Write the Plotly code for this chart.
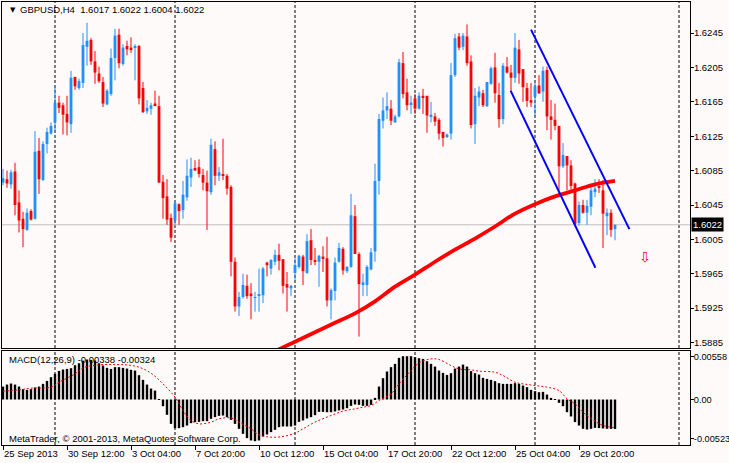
import plotly.graph_objects as go
from plotly.subplots import make_subplots

# GBPUSD H4, bar 0 = 25 Sep 2013 20:00, one bar every 4 hours
opens = [1.6071, 1.6075, 1.6069, 1.6084, 1.6048, 1.6029, 1.6016, 1.6038, 1.6029, 1.6108,
         1.6074, 1.6116, 1.6128, 1.6141, 1.6164, 1.6161, 1.6151, 1.6139, 1.6194, 1.6181,
         1.6187, 1.6229, 1.6237, 1.6212, 1.6198, 1.6188, 1.6162, 1.6174, 1.6216, 1.6243,
         1.6209, 1.6230, 1.6228, 1.6228, 1.6230, 1.6181, 1.6154, 1.6157, 1.6163, 1.6160,
         1.6072, 1.6055, 1.6030, 1.6027, 1.6046, 1.6039, 1.6054, 1.6077, 1.6088, 1.6089,
         1.6080, 1.6071, 1.6060, 1.6110, 1.6079, 1.6081, 1.6079, 1.6066, 1.5979, 1.5927,
         1.5938, 1.5951, 1.5942, 1.5937, 1.5940, 1.5940, 1.5978, 1.5971, 1.5979, 1.5987,
         1.5982, 1.5953, 1.5948, 1.5966, 1.5973, 1.5985, 1.5966, 1.6004, 1.5981, 1.5979,
         1.5985, 1.5983, 1.5934, 1.5945, 1.5979, 1.5994, 1.5968, 1.5973, 1.6032, 1.5988,
         1.5952, 1.5952, 1.5970, 1.5991, 1.6073, 1.6143, 1.6155, 1.6157, 1.6141, 1.6148,
         1.6210, 1.6176, 1.6162, 1.6169, 1.6157, 1.6172, 1.6172, 1.6148, 1.6148, 1.6144,
         1.6130, 1.6124, 1.6128, 1.6196, 1.6241, 1.6229, 1.6241, 1.6212, 1.6139, 1.6170,
         1.6175, 1.6160, 1.6186, 1.6205, 1.6173, 1.6145, 1.6206, 1.6199, 1.6193, 1.6226,
         1.6203, 1.6181, 1.6167, 1.6171, 1.6184, 1.6177, 1.6202, 1.6148, 1.6144, 1.6137,
         1.6090, 1.6102, 1.6091, 1.6070, 1.6024, 1.6045, 1.6036, 1.6043, 1.6060, 1.6067,
         1.6062, 1.6032, 1.6036, 1.6017]
highs = [1.6087, 1.6085, 1.6086, 1.6094, 1.6062, 1.6037, 1.6041, 1.6040, 1.6131, 1.6123,
         1.6119, 1.6135, 1.6141, 1.6183, 1.6172, 1.6164, 1.6172, 1.6201, 1.6194, 1.6192,
         1.6245, 1.6257, 1.6239, 1.6224, 1.6206, 1.6194, 1.6180, 1.6227, 1.6250, 1.6250,
         1.6232, 1.6236, 1.6240, 1.6232, 1.6231, 1.6188, 1.6167, 1.6164, 1.6178, 1.6172,
         1.6080, 1.6075, 1.6035, 1.6048, 1.6047, 1.6073, 1.6098, 1.6100, 1.6097, 1.6098,
         1.6087, 1.6085, 1.6122, 1.6119, 1.6089, 1.6122, 1.6081, 1.6068, 1.5984, 1.5944,
         1.5965, 1.5964, 1.5954, 1.5944, 1.5971, 1.5973, 1.5979, 1.5982, 1.5993, 1.6000,
         1.5982, 1.5967, 1.5952, 1.5983, 1.5987, 1.5987, 1.6011, 1.6017, 1.5995, 1.5987,
         1.5997, 1.6008, 1.5948, 1.5984, 1.6001, 1.5996, 1.5974, 1.6058, 1.6045, 1.5990,
         1.5965, 1.5975, 1.5995, 1.6093, 1.6151, 1.6170, 1.6176, 1.6167, 1.6150, 1.6215,
         1.6223, 1.6192, 1.6172, 1.6174, 1.6176, 1.6180, 1.6172, 1.6165, 1.6152, 1.6146,
         1.6130, 1.6128, 1.6210, 1.6244, 1.6245, 1.6245, 1.6255, 1.6219, 1.6181, 1.6183,
         1.6179, 1.6188, 1.6206, 1.6222, 1.6187, 1.6210, 1.6217, 1.6208, 1.6245, 1.6237,
         1.6203, 1.6187, 1.6187, 1.6187, 1.6196, 1.6206, 1.6206, 1.6167, 1.6163, 1.6137,
         1.6117, 1.6102, 1.6097, 1.6071, 1.6049, 1.6051, 1.6051, 1.6070, 1.6075, 1.6075,
         1.6074, 1.6041, 1.6040, 1.6022]
lows = [1.6068, 1.6065, 1.6064, 1.6033, 1.6013, 1.5996, 1.6015, 1.6027, 1.6028, 1.6058,
        1.6073, 1.6105, 1.6127, 1.6132, 1.6152, 1.6127, 1.6126, 1.6129, 1.6179, 1.6179,
        1.6181, 1.6207, 1.6208, 1.6186, 1.6187, 1.6159, 1.6161, 1.6172, 1.6190, 1.6204,
        1.6207, 1.6219, 1.6222, 1.6190, 1.6162, 1.6152, 1.6151, 1.6150, 1.6160, 1.6071,
        1.6029, 1.6022, 1.6002, 1.6022, 1.6022, 1.6029, 1.6050, 1.6066, 1.6085, 1.6077,
        1.6062, 1.6016, 1.6057, 1.6068, 1.6073, 1.6074, 1.6057, 1.5962, 1.5921, 1.5916,
        1.5936, 1.5936, 1.5912, 1.5921, 1.5921, 1.5931, 1.5962, 1.5964, 1.5975, 1.5969,
        1.5942, 1.5921, 1.5939, 1.5958, 1.5971, 1.5952, 1.5965, 1.5975, 1.5975, 1.5950,
        1.5967, 1.5927, 1.5912, 1.5934, 1.5978, 1.5964, 1.5966, 1.5972, 1.5988, 1.5892,
        1.5939, 1.5939, 1.5969, 1.5979, 1.6057, 1.6134, 1.6145, 1.6138, 1.6141, 1.6147,
        1.6169, 1.6155, 1.6151, 1.6151, 1.6156, 1.6151, 1.6129, 1.6141, 1.6137, 1.6121,
        1.6113, 1.6123, 1.6121, 1.6194, 1.6225, 1.6225, 1.6207, 1.6134, 1.6116, 1.6160,
        1.6159, 1.6159, 1.6185, 1.6164, 1.6135, 1.6139, 1.6198, 1.6178, 1.6187, 1.6186,
        1.6165, 1.6159, 1.6159, 1.6148, 1.6174, 1.6165, 1.6132, 1.6121, 1.6132, 1.6062,
        1.6088, 1.6062, 1.6063, 1.6020, 1.6021, 1.6035, 1.6022, 1.6033, 1.6054, 1.6059,
        1.5995, 1.6010, 1.6008, 1.6004]
closes = [1.6076, 1.6070, 1.6083, 1.6045, 1.6027, 1.6017, 1.6036, 1.6028, 1.6107, 1.6075,
          1.6116, 1.6130, 1.6137, 1.6164, 1.6158, 1.6150, 1.6141, 1.6193, 1.6183, 1.6189,
          1.6231, 1.6236, 1.6212, 1.6199, 1.6189, 1.6163, 1.6178, 1.6216, 1.6242, 1.6210,
          1.6228, 1.6226, 1.6226, 1.6230, 1.6169, 1.6153, 1.6158, 1.6161, 1.6160, 1.6071,
          1.6053, 1.6028, 1.6007, 1.6047, 1.6038, 1.6057, 1.6079, 1.6087, 1.6085, 1.6081,
          1.6071, 1.6061, 1.6115, 1.6079, 1.6083, 1.6079, 1.6064, 1.5979, 1.5927, 1.5938,
          1.5952, 1.5939, 1.5939, 1.5938, 1.5941, 1.5971, 1.5975, 1.5981, 1.5987, 1.5980,
          1.5951, 1.5949, 1.5951, 1.5975, 1.5986, 1.5968, 1.6003, 1.5981, 1.5979, 1.5986,
          1.5983, 1.5934, 1.5946, 1.5978, 1.5995, 1.5969, 1.5973, 1.6033, 1.5988, 1.5953,
          1.5955, 1.5973, 1.5990, 1.6073, 1.6145, 1.6155, 1.6160, 1.6143, 1.6148, 1.6211,
          1.6174, 1.6161, 1.6164, 1.6157, 1.6172, 1.6170, 1.6149, 1.6150, 1.6142, 1.6128,
          1.6123, 1.6127, 1.6196, 1.6239, 1.6228, 1.6242, 1.6210, 1.6138, 1.6172, 1.6177,
          1.6161, 1.6188, 1.6204, 1.6175, 1.6145, 1.6207, 1.6199, 1.6193, 1.6228, 1.6198,
          1.6182, 1.6166, 1.6164, 1.6183, 1.6175, 1.6201, 1.6148, 1.6144, 1.6137, 1.6090,
          1.6103, 1.6091, 1.6067, 1.6023, 1.6045, 1.6036, 1.6044, 1.6062, 1.6064, 1.6065,
          1.6035, 1.6036, 1.6016, 1.6022]

# moving average (read every 5 bars)
ma_bars = [68, 73, 78, 83, 88, 93, 98, 103, 108, 113, 118, 123, 128, 133, 138, 143, 148, 153]
ma_vals = [1.5875, 1.5886, 1.5897, 1.5908, 1.5919, 1.5933, 1.5950, 1.5964, 1.5979, 1.5993,
           1.6006, 1.6020, 1.6035, 1.6046, 1.6055, 1.6062, 1.6069, 1.6073]

# drawn channel lines (start/end bar, price)
chan_hi_x = [132, 156.6]
chan_hi_y = [1.6249, 1.6017]
chan_lo_x = [126.9, 148.1]
chan_lo_y = [1.6178, 1.5972]

# MACD(12,26,9) main values, in 1e-5
macd = [149, 172, 184, 172, 149, 119, 111, 119, 138, 149,
        180, 214, 257, 295, 329, 345, 352, 360, 394, 417,
        448, 460, 456, 448, 417, 391, 364, 352, 372, 372,
        364, 356, 341, 333, 280, 226, 172, 126, 103, -4,
        -77, -176, -280, -329, -329, -318, -299, -272, -260, -257,
        -249, -249, -222, -203, -188, -184, -203, -234, -280, -337,
        -394, -444, -471, -479, -471, -425, -402, -375, -349, -318,
        -310, -310, -310, -299, -257, -241, -218, -203, -180, -142,
        -142, -146, -146, -138, -126, -115, -100, -73, -57, -61,
        -73, -73, -61, 19, 149, 245, 322, 372, 410, 479,
        498, 498, 498, 486, 475, 467, 440, 410, 379, 333,
        306, 283, 303, 356, 379, 402, 379, 326, 303, 287,
        249, 237, 226, 211, 188, 180, 180, 180, 188, 180,
        161, 142, 111, 96, 84, 88, 57, 19, -4, -38,
        -77, -146, -195, -260, -299, -337, -345, -337, -326, -329,
        -333, -337, -337, -338]
sig_bars = [0, 4, 7, 12, 14, 18, 20, 24, 28, 31, 34, 37, 40, 43, 45, 47, 49, 52, 54, 57,
            59, 62, 64, 67, 70, 73, 75, 78, 82, 85, 88, 90, 92, 94, 97, 99, 102, 104, 107,
            109, 112, 114, 117, 119, 123, 125, 128, 130, 133, 136, 139, 141, 143, 145, 148,
            150, 153]
sig_vals = [96, 111, 130, 142, 199, 295, 364, 398, 402, 398, 372, 303, 180, 27, -126, -241,
            -280, -260, -222, -211, -260, -337, -406, -433, -425, -387, -337, -260, -184,
            -134, -107, -88, -69, -11, 65, 180, 333, 420, 467, 460, 391, 352, 341, 326, 314,
            276, 199, 180, 161, 142, 103, 8, -50, -146, -249, -299, -324]

tick_bars = [0, 16, 32, 48, 64, 80, 96, 112, 128, 144]
tick_text = ['25 Sep 2013', '30 Sep 12:00', '3 Oct 04:00', '7 Oct 20:00', '10 Oct 12:00',
             '15 Oct 04:00', '17 Oct 20:00', '22 Oct 12:00', '25 Oct 04:00', '29 Oct 20:00']
grid_bars = [13, 43, 73, 103, 133, 169]
price_ticks = [1.6245, 1.6205, 1.6165, 1.6125, 1.6085, 1.6045, 1.6005, 1.5965, 1.5925, 1.5885]
bid = 1.6022
macd_max, macd_min = 0.00558, -0.00523

BLUE = '#1E90FF'
RED = '#FF0000'
BG = '#FFFAFA'
FONT = 'Liberation Sans'
FS = 9.5

idx = list(range(len(opens)))
fig = make_subplots(rows=2, cols=1, shared_xaxes=True)

up = [i for i in idx if closes[i] >= opens[i]]
dn = [i for i in idx if closes[i] < opens[i]]

for ids, col in ((up, BLUE), (dn, RED)):
    wx, wy = [], []
    for i in ids:
        wx += [i, i, None]
        wy += [lows[i], highs[i], None]
    fig.add_trace(go.Scatter(x=wx, y=wy, mode='lines', line=dict(color=col, width=1)), 1, 1)
    fig.add_trace(go.Bar(x=ids,
                         base=[min(opens[i], closes[i]) for i in ids],
                         y=[max(abs(closes[i] - opens[i]), 0.00008) for i in ids],
                         width=0.7, marker=dict(color=col, line_width=0)), 1, 1)

fig.add_trace(go.Scatter(x=ma_bars, y=ma_vals, mode='lines',
                         line=dict(color=RED, width=3.8, shape='spline')), 1, 1)
fig.add_trace(go.Scatter(x=chan_hi_x, y=chan_hi_y, mode='lines', line=dict(color='#0000FF', width=2)), 1, 1)
fig.add_trace(go.Scatter(x=chan_lo_x, y=chan_lo_y, mode='lines', line=dict(color='#0000FF', width=2)), 1, 1)

fig.add_trace(go.Bar(x=idx, y=[v / 1e5 for v in macd], width=0.6,
                     marker=dict(color='black', line_width=0)), 2, 1)
fig.add_trace(go.Scatter(x=sig_bars, y=[v / 1e5 for v in sig_vals], mode='lines',
                         line=dict(color=RED, width=1, dash='2px,2px', shape='spline')), 2, 1)

for g in grid_bars:
    for r in (1, 2):
        fig.add_vline(x=g, line=dict(color='black', width=1, dash='3px,2px'), layer='below', row=r, col=1)
fig.add_hline(y=bid, line=dict(color='#C0C0C0', width=1), layer='below', row=1, col=1)

pad = 0.00069
fig.update_layout(
    width=729, height=463,
    margin=dict(l=2, r=39, t=2, b=18),
    paper_bgcolor=BG, plot_bgcolor=BG,
    template='none', showlegend=False, barmode='overlay', hovermode=False,
    font=dict(family=FONT, size=FS, color='black'),
)
fig.update_xaxes(range=[-0.25, 171.75], showgrid=False, zeroline=False, automargin=False,
                 showline=True, mirror=True, linecolor='black', linewidth=1)
fig.update_xaxes(showticklabels=False, ticks='', row=1, col=1)
fig.update_xaxes(tickmode='array', tickvals=tick_bars, ticktext=tick_text, tickangle=0,
                 ticks='outside', ticklen=4, tickcolor='black',
                 ticklabelposition='outside right', tickfont=dict(size=FS), row=2, col=1)
fig.update_yaxes(side='right', showgrid=False, zeroline=False, showline=True, mirror=True,
                 linecolor='black', linewidth=1, ticks='outside', ticklen=3, tickcolor='black',
                 automargin=False, tickfont=dict(size=FS), ticklabelstandoff=-2)
fig.update_yaxes(domain=[0.219, 1], range=[1.58787, 1.62811], tickmode='array',
                 tickvals=price_ticks, ticktext=['%.4f' % p for p in price_ticks], row=1, col=1)
fig.update_yaxes(domain=[0, 0.2122], range=[macd_min, macd_max], tickmode='array',
                 tickvals=[macd_max - pad, 0, macd_min + pad], tickfont=dict(size=9.2),
                 ticktext=['%.5f' % macd_max, '0.00', '%.5f' % macd_min], row=2, col=1)

note = dict(showarrow=False, xanchor='left', yanchor='middle', xref='paper', yref='paper',
            font=dict(family=FONT, size=FS, color='black'))
fig.add_annotation(x=0.0087, y=0.982, text='▼', **dict(note, font=dict(size=7, family='DejaVu Sans')))
fig.add_annotation(x=0.0233, y=0.982,
                   text='GBPUSD,H4\u00a0\u00a0%.4f %.4f %.4f %.4f' % (opens[-1], highs[-1], lows[-1], closes[-1]),
                   **note)
fig.add_annotation(x=0.0073, y=0.192,
                   text='MACD(12,26,9) %.5f %.5f' % (macd[-1] / 1e5, sig_vals[-1] / 1e5), **note)
fig.add_annotation(x=0.0073, y=0.0142,
                   text='MetaTrader, © 2001-2013, MetaQuotes Software Corp.', **note)
fig.add_annotation(**dict(note, yref='y', x=1, y=bid, xshift=1, text='%.4f' % bid,
                          bgcolor='black', borderpad=1, font=dict(family=FONT, size=FS, color='white')))
fig.add_annotation(x=160.5, y=1.5985, text='⇩', showarrow=False,
                   font=dict(size=14, color=RED, family='DejaVu Sans'))

fig.write_html("out.html", config={'displayModeBar': False},
               post_script="document.body.style.margin='0';")
